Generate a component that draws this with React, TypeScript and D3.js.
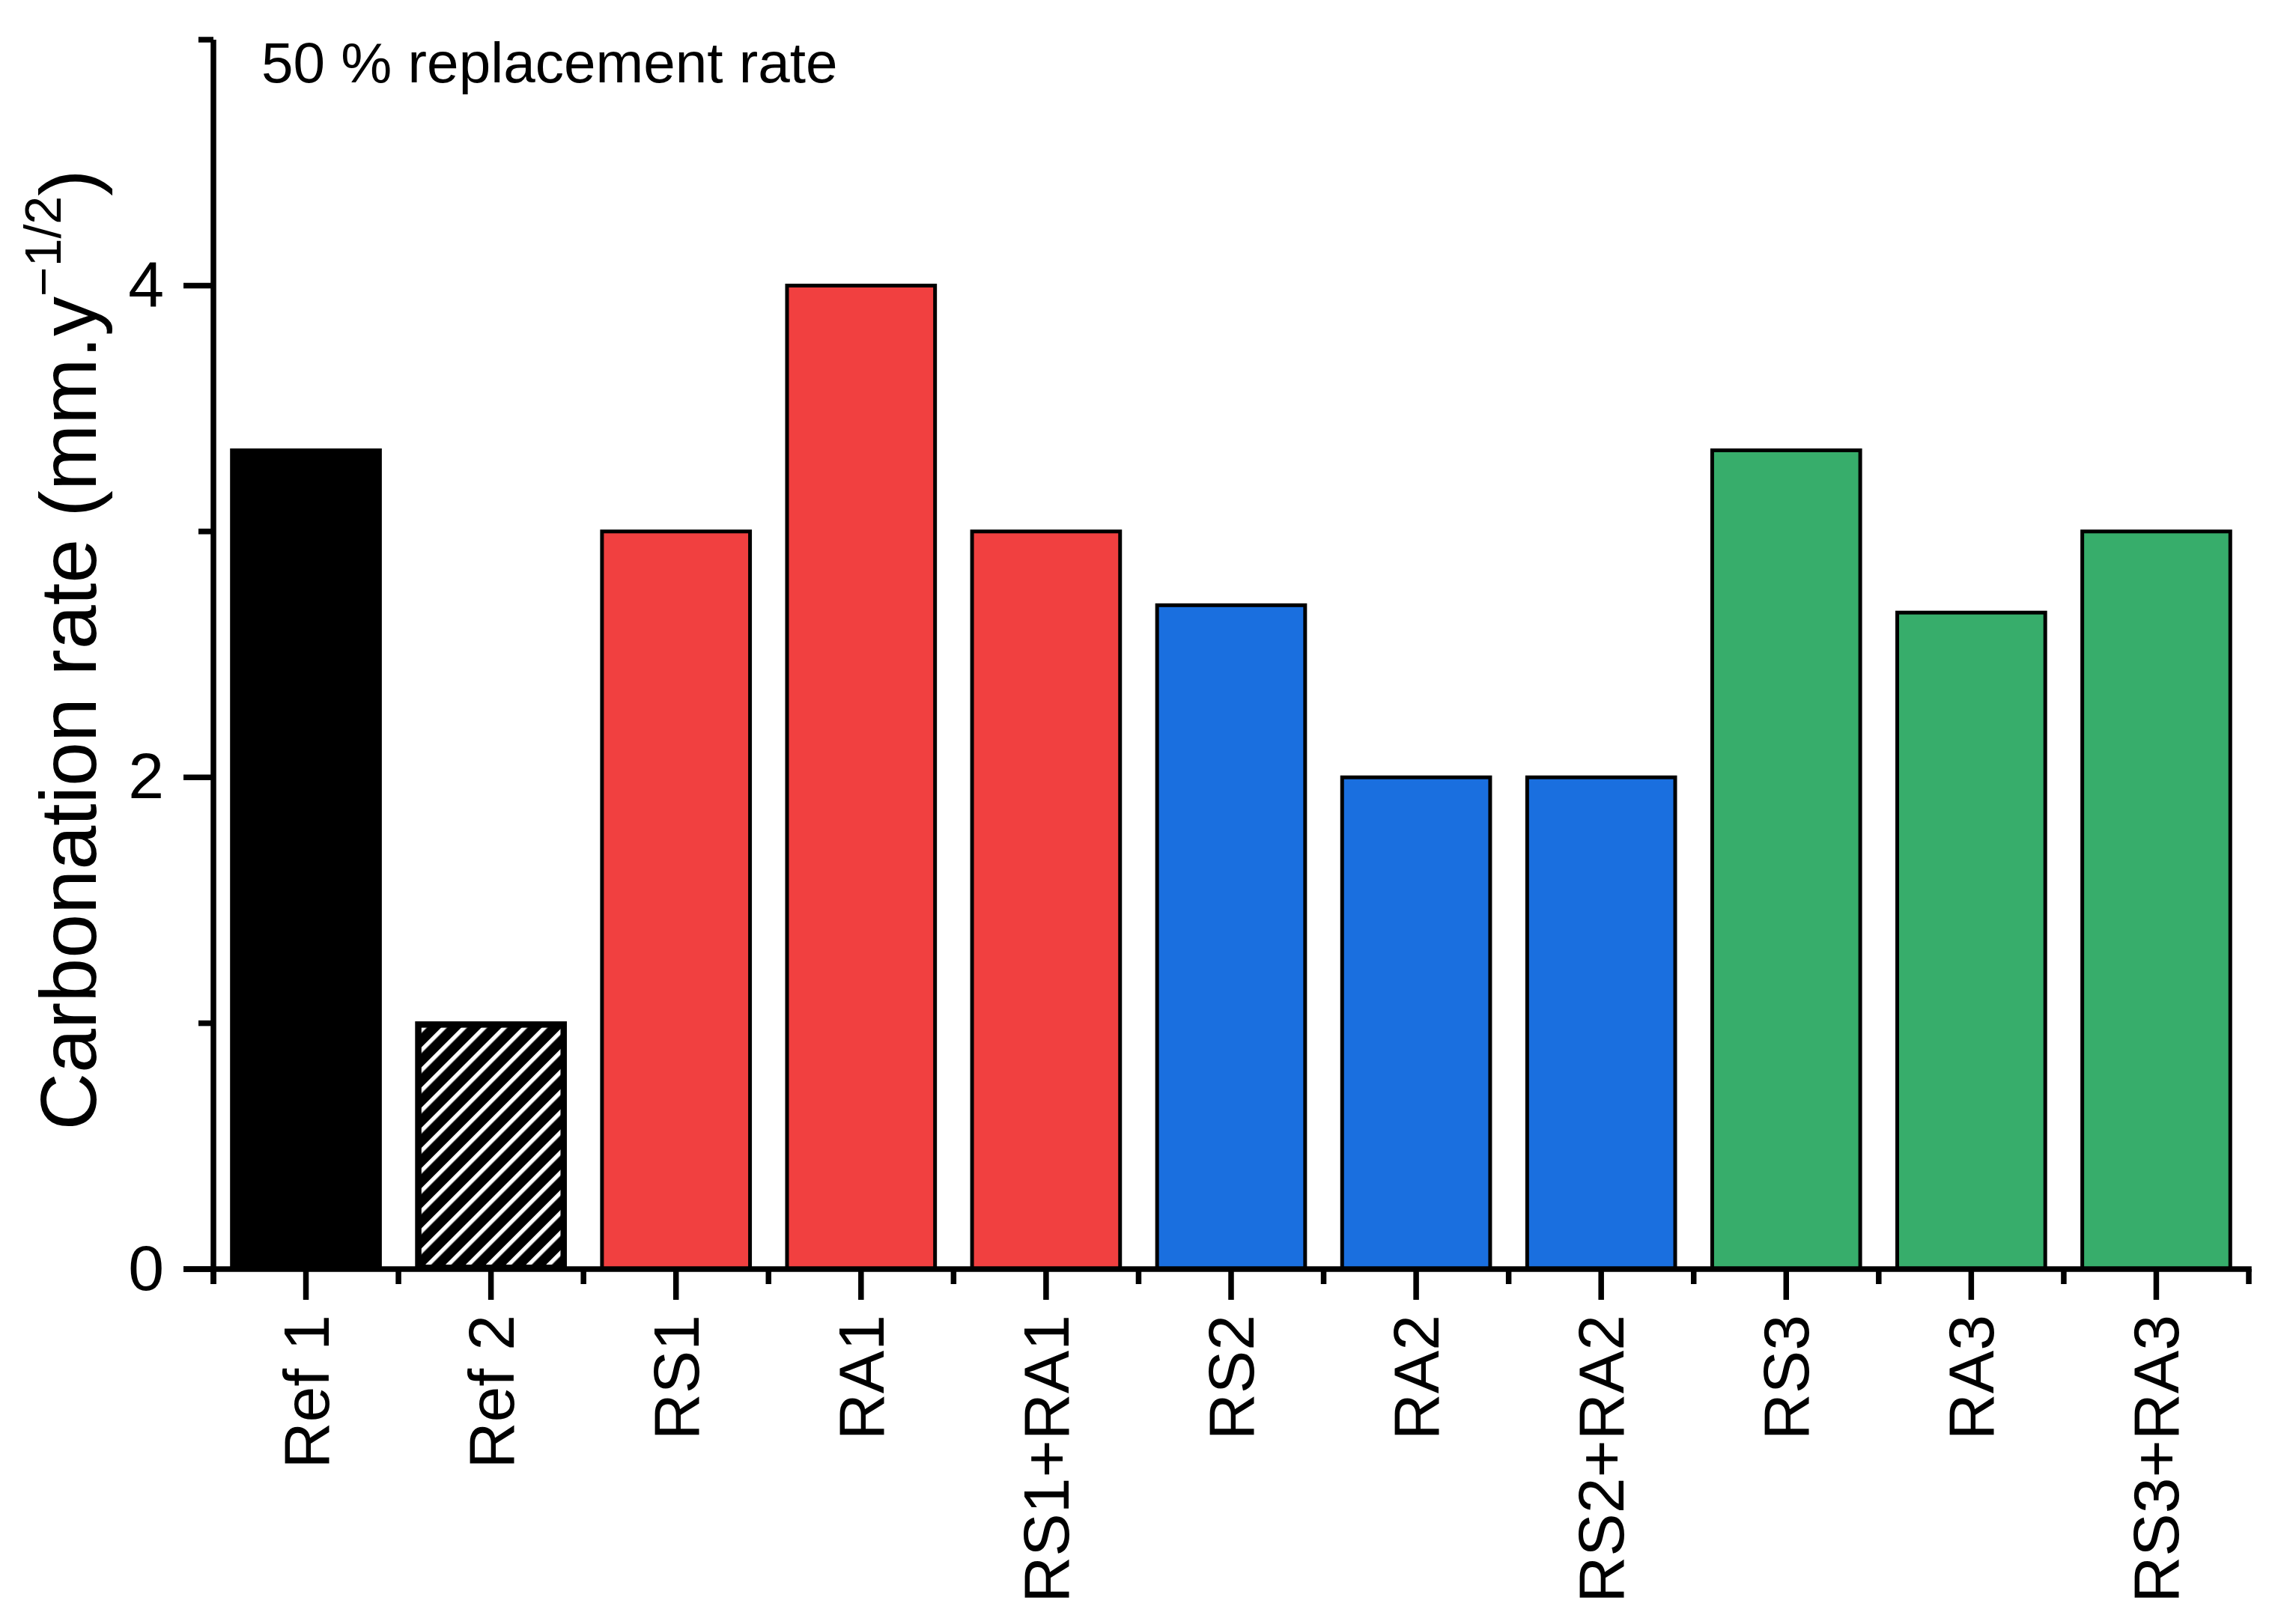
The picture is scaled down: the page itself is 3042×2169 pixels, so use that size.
import React from "react";
import * as d3 from "d3";

const categories = ["Ref 1", "Ref 2", "RS1", "RA1", "RS1+RA1", "RS2", "RA2", "RS2+RA2", "RS3", "RA3", "RS3+RA3"];
const values = [3.33, 1.0, 3.0, 4.0, 3.0, 2.7, 2.0, 2.0, 3.33, 2.67, 3.0];
const fills = ["#000000", "hatch", "#F14040", "#F14040", "#F14040", "#1A6FDF", "#1A6FDF", "#1A6FDF", "#37AD6B", "#37AD6B", "#37AD6B"];
const majorTicks = [0, 2, 4];
const minorTicks = [1, 3, 5];
const yLabelMain = "Carbonation rate (mm.y";
const yLabelSup = "\u22121/2";
const yLabelEnd = ")";
const annotation = "50 % replacement rate";

const W = 3042;
const H = 2169;
const FONT = "'Liberation Sans', Arial, Helvetica, sans-serif";

export default function App() {
  const x0 = 285, x1 = 3003, y0 = 1695, yTop = 53;
  const x = d3.scaleBand<string>().domain(categories).range([x0, x1]).paddingInner(0.2).paddingOuter(0.1);
  const y = d3.scaleLinear().domain([0, 5]).range([y0, yTop]);
  const step = x.step();
  const boundaries = d3.range(categories.length + 1).map((i) => x0 + i * step);
  const axisW = 7.5;
  const barStroke = 5;

  return (
    <svg width={W} height={H} viewBox={`0 0 ${W} ${H}`} style={{ position: "absolute", left: 0, top: 0, background: "#fff" }} fontFamily={FONT}>
      <defs>
        <pattern id="hatch" patternUnits="userSpaceOnUse" width={19} height={19} patternTransform="rotate(45)">
          <rect x={0} y={0} width={19} height={19} fill="#000" />
          <line x1={0} y1={0} x2={0} y2={19} stroke="#fff" strokeWidth={11} />
        </pattern>
      </defs>
      <rect x={0} y={0} width={W} height={H} fill="#fff" />

      {/* bars */}
      {categories.map((c, i) => {
        const bx = x(c)!;
        const bw = x.bandwidth();
        const by = y(values[i]);
        const bh = y0 - by;
        if (fills[i] === "hatch") {
          const inset = 6;
          return (
            <g key={c}>
              <rect x={bx} y={by} width={bw} height={bh} fill="#000" stroke="#000" strokeWidth={barStroke} />
              <rect x={bx + inset} y={by + inset} width={bw - 2 * inset} height={bh - 2 * inset} fill="url(#hatch)" />
            </g>
          );
        }
        return <rect key={c} x={bx} y={by} width={bw} height={bh} fill={fills[i]} stroke="#000" strokeWidth={barStroke} />;
      })}

      {/* y axis */}
      <line x1={x0} x2={x0} y1={yTop} y2={y0 + 20} stroke="#000" strokeWidth={axisW} />
      {majorTicks.map((t) => (
        <g key={"M" + t}>
          <line x1={x0 - 40} x2={x0} y1={y(t)} y2={y(t)} stroke="#000" strokeWidth={axisW} />
          <text x={219} y={y(t) + 28} textAnchor="end" fontSize={86} fill="#000">{t}</text>
        </g>
      ))}
      {minorTicks.map((t) => (
        <line key={"m" + t} x1={x0 - 20} x2={x0} y1={y(t)} y2={y(t)} stroke="#000" strokeWidth={axisW} />
      ))}

      {/* x axis */}
      <line x1={x0 - 40} x2={x1 + axisW / 2} y1={y0} y2={y0} stroke="#000" strokeWidth={axisW} />
      {boundaries.map((b, i) => (
        <line key={"b" + i} x1={b} x2={b} y1={y0} y2={y0 + 20} stroke="#000" strokeWidth={axisW} />
      ))}
      {categories.map((c) => {
        const cx = x(c)! + x.bandwidth() / 2;
        return (
          <g key={"t" + c}>
            <line x1={cx} x2={cx} y1={y0} y2={y0 + 41} stroke="#000" strokeWidth={axisW} />
            <text transform={`translate(${cx + 30},1756) rotate(-90)`} textAnchor="end" fontSize={86} fill="#000">{c}</text>
          </g>
        );
      })}

      {/* y label */}
      <text transform={`translate(128,868) rotate(-90)`} textAnchor="middle" fontSize={106} fill="#000">
        {yLabelMain}
        <tspan fontSize={68} dy={-47}>{yLabelSup}</tspan>
        <tspan fontSize={106} dy={47}>{yLabelEnd}</tspan>
      </text>

      {/* annotation */}
      <text x={349} y={110} fontSize={76.5} fill="#000">{annotation}</text>
    </svg>
  );
}
